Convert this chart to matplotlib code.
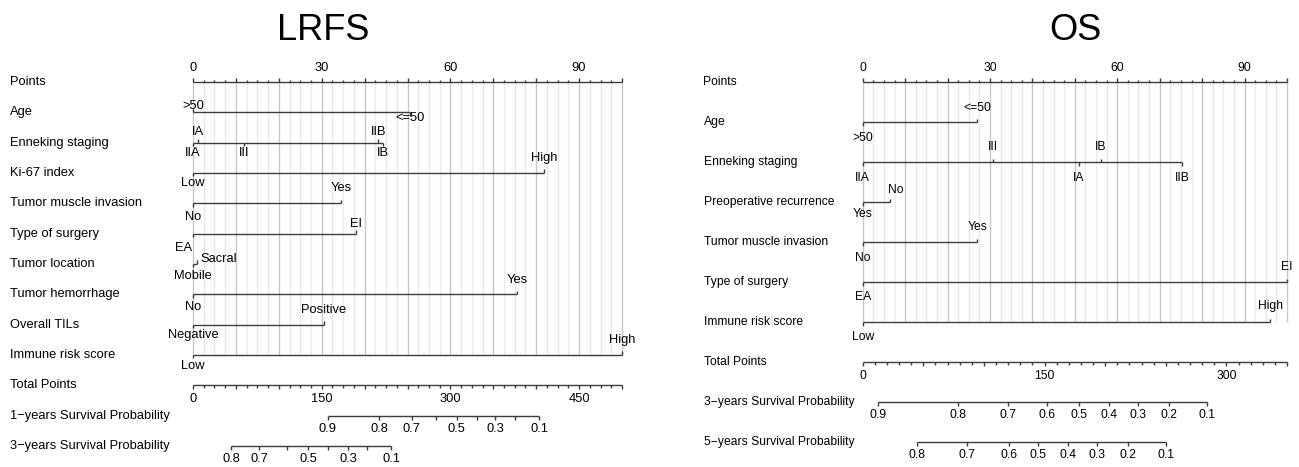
import numpy as np
import matplotlib.pyplot as plt

plt.rcParams['font.family'] = ['Liberation Sans', 'DejaVu Sans']

# ---------------- LRFS model ----------------
lrfs_vars = ['Age', 'Enneking staging', 'Ki-67 index', 'Tumor muscle invasion',
             'Type of surgery', 'Tumor location', 'Tumor hemorrhage',
             'Overall TILs', 'Immune risk score']
lrfs_levels = [['>50', '<=50'],
               ['IIA', 'IA', 'III', 'IIB', 'IB'],
               ['Low', 'High'],
               ['No', 'Yes'],
               ['EA', 'EI'],
               ['Mobile', 'Sacral'],
               ['No', 'Yes'],
               ['Negative', 'Positive'],
               ['Low', 'High']]
lrfs_scores = [[0, 50.5],
               [0, 1.2, 12, 43.2, 44.2],
               [0, 81.8],
               [0, 34.5],
               [0, 38],
               [0, 1],
               [0, 75.5],
               [0, 30.5],
               [0, 100]]
lrfs_total_max = 500
lrfs_total_labels = [0, 150, 300, 450]
lrfs_surv_names = ['1\u2212years Survival Probability', '3\u2212years Survival Probability']
lrfs_surv_probs = [[0.9, 0.8, 0.7, 0.6, 0.5, 0.4, 0.3, 0.2, 0.1],
                   [0.8, 0.7, 0.6, 0.5, 0.4, 0.3, 0.2, 0.1]]
lrfs_surv_total = [[157, 216.8, 254.8, 283, 307.3, 330.6, 352, 375.3, 403.6],
                   [44.3, 76.9, 109.6, 134.0, 157.3, 180.7, 202.8, 230.8]]
lrfs_surv_shown = [[0.9, 0.8, 0.7, 0.5, 0.3, 0.1],
                   [0.8, 0.7, 0.5, 0.3, 0.1]]

# ---------------- OS model ----------------
os_vars = ['Age', 'Enneking staging', 'Preoperative recurrence',
           'Tumor muscle invasion', 'Type of surgery', 'Immune risk score']
os_levels = [['>50', '<=50'],
             ['IIA', 'III', 'IA', 'IB', 'IIB'],
             ['Yes', 'No'],
             ['No', 'Yes'],
             ['EA', 'EI'],
             ['Low', 'High']]
os_scores = [[0, 27],
             [0, 30.6, 51, 56.1, 75.3],
             [0, 6.4],
             [0, 27],
             [0, 100],
             [0, 96]]
os_total_max = 350
os_total_labels = [0, 150, 300]
os_surv_names = ['3\u2212years Survival Probability', '5\u2212years Survival Probability']
os_surv_probs = [[0.9, 0.8, 0.7, 0.6, 0.5, 0.4, 0.3, 0.2, 0.1],
                 [0.8, 0.7, 0.6, 0.5, 0.4, 0.3, 0.2, 0.1]]
os_surv_total = [[12.9, 78.9, 120.1, 151.8, 178.4, 203.4, 227.3, 252.9, 284.3],
                 [45.0, 86.3, 120.9, 144.9, 169.6, 193.0, 218.6, 250.2]]
os_surv_shown = os_surv_probs

# label placement: +1 above the line, -1 below; gaps in pixels
lrfs_side = [[1, -1], [-1, 1, -1, 1, -1], [-1, 1], [-1, 1], [-1, 1],
             [-1, 1], [-1, 1], [-1, 1], [-1, 1]]
lrfs_gap_up = [6, 11, 15, 15, 10, 5, 14, 15, 15]
lrfs_gap_dn = [6, 10, 10, 14, 14, 12, 13, 10, 11]
lrfs_nudge = {(4, 'EA'): -9, (5, 'Sacral'): 21}

os_side = [[-1, 1], [-1, 1, -1, 1, -1], [-1, 1], [-1, 1], [-1, 1], [-1, 1]]
os_gap_up = [14, 15, 12, 15, 15, 16]
os_gap_dn = [16, 16, 12, 16, 15, 15]
os_nudge = {(2, 'No'): 6}

LINE = '#3c3c3c'
W, H = 1299, 467

fig = plt.figure(figsize=(W / 100, H / 100), dpi=100)


def draw_nomogram(ax, zero_px, pt_px, top_px, row_px, left_px, right_px, name_x, fs,
                  variables, levels, scores, sides, gap_up, gap_dn, nudge,
                  total_max, total_minor, total_labels,
                  surv_names, surv_probs, surv_total, surv_shown):
    ax.set_xlim((left_px - zero_px) / pt_px, (right_px - zero_px) / pt_px)
    ax.set_ylim((H - top_px) / row_px, -top_px / row_px)
    ax.axis('off')
    kx = 1.0 / pt_px
    ky = 1.0 / row_px
    nvar = len(variables)
    names_tr = ax.get_yaxis_transform()

    # vertical reference lines
    for g in np.arange(0, 100.01, 2.5):
        major = abs(g / 10 - round(g / 10)) < 1e-9
        ax.vlines(g, 0, nvar, color='#c8c8c8' if major else '#e8e8e8',
                  lw=1, zorder=0)

    # Points scale
    ax.hlines(0, 0, 100, color=LINE, lw=1)
    for t in np.arange(0, 100.01, 2.5):
        major = abs(t / 10 - round(t / 10)) < 1e-9
        ax.vlines(t, 0, -(4 if major else 2.5) * ky, color=LINE, lw=1)
    for t in [0, 30, 60, 90]:
        ax.text(t, -14 * ky, str(t), ha='center', va='center', fontsize=fs)
    ax.text(name_x, 0, 'Points', transform=names_tr, ha='left', va='center',
            fontsize=fs)

    # predictor scales
    for i, (var, labs, pts) in enumerate(zip(variables, levels, scores)):
        r = i + 1
        ax.hlines(r, min(pts), max(pts), color=LINE, lw=1)
        for lab, p, s in zip(labs, pts, sides[i]):
            ax.vlines(p, r, r - s * 3.5 * ky, color=LINE, lw=1)
            gap = gap_up[i] if s > 0 else gap_dn[i]
            dx = nudge.get((i, lab), 0)
            ax.text(p + dx * kx, r - s * gap * ky, lab, ha='center',
                    va='center', fontsize=fs)
        ax.text(name_x, r, var, transform=names_tr, ha='left', va='center',
                fontsize=fs)

    # Total Points scale
    r = nvar + 1
    f = 100.0 / total_max
    ax.hlines(r, 0, 100, color=LINE, lw=1)
    for t in np.arange(0, total_max + 0.01, total_minor):
        major = abs(t / 50 - round(t / 50)) < 1e-9
        ax.vlines(t * f, r, r + (4 if major else 2.5) * ky, color=LINE, lw=1)
    for t in total_labels:
        ax.text(t * f, r + 14 * ky, str(t), ha='center', va='center', fontsize=fs)
    ax.text(name_x, r, 'Total Points', transform=names_tr, ha='left',
            va='center', fontsize=fs)

    # survival probability scales
    for j, (name, probs, tot, shown) in enumerate(
            zip(surv_names, surv_probs, surv_total, surv_shown)):
        r = nvar + 2 + j
        xs = [t * f for t in tot]
        ax.hlines(r, min(xs), max(xs), color=LINE, lw=1)
        for pr, x in zip(probs, xs):
            ax.vlines(x, r, r + 4 * ky, color=LINE, lw=1)
            if pr in shown:
                ax.text(x, r + 13 * ky, f'{pr:g}', ha='center', va='center',
                        fontsize=fs)
        ax.text(name_x, r, name, transform=names_tr, ha='left', va='center',
                fontsize=fs)


ax1 = fig.add_axes([0, 0, 649.5 / W, 1])
draw_nomogram(ax1, 193, 4.29, 82, 30.33, 0, 649.5, 10 / 649.5, 9.3,
              lrfs_vars, lrfs_levels, lrfs_scores, lrfs_side, lrfs_gap_up,
              lrfs_gap_dn, lrfs_nudge, lrfs_total_max, 12.5, lrfs_total_labels,
              lrfs_surv_names, lrfs_surv_probs, lrfs_surv_total, lrfs_surv_shown)

ax2 = fig.add_axes([649.5 / W, 0, 649.5 / W, 1])
draw_nomogram(ax2, 862.7, 4.243, 82, 40.0, 649.5, 1299, 54 / 649.5, 8.7,
              os_vars, os_levels, os_scores, os_side, os_gap_up, os_gap_dn,
              os_nudge, os_total_max, 10, os_total_labels,
              os_surv_names, os_surv_probs, os_surv_total, os_surv_shown)

fig.text(323 / W, 1 - 30 / H, 'LRFS', ha='center', va='center', fontsize=26)
fig.text(1075 / W, 1 - 30 / H, 'OS', ha='center', va='center', fontsize=26)

fig.savefig('out.png', dpi=100)
